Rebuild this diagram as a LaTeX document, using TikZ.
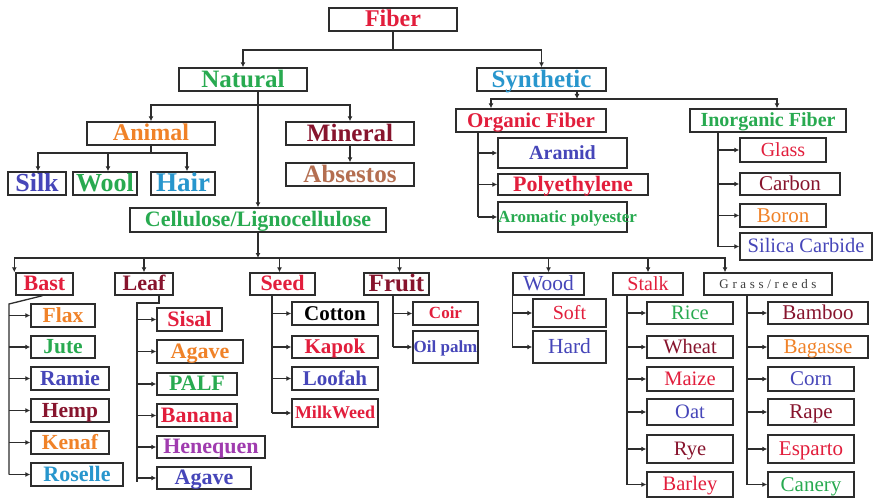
\documentclass[tikz,border=0pt]{standalone}
\usepackage{fontspec}
\setmainfont{Liberation Serif}
\newfontfamily\grassfont[LetterSpace=28]{Liberation Serif}
\usetikzlibrary{arrows.meta}
\definecolor{cred}{RGB}{226,30,60}
\definecolor{cdred}{RGB}{135,20,45}
\definecolor{cgreen}{RGB}{40,170,80}
\definecolor{corange}{RGB}{240,130,40}
\definecolor{cblue}{RGB}{70,70,185}
\definecolor{clblue}{RGB}{40,150,205}
\definecolor{cbrown}{RGB}{180,110,80}
\definecolor{cpurple}{RGB}{160,60,175}
\definecolor{cgray}{RGB}{60,60,60}
\definecolor{lc}{RGB}{45,45,45}
\begin{document}
\begin{tikzpicture}[x=1pt,y=-1pt,
  bx/.style={draw=lc, line width=1.4pt, inner sep=0pt, minimum width=#1},
  fb/.style={font=\fontsize{#1}{#1}\selectfont\bfseries, text height={0.62*#1pt}, text depth=0pt},
  fr/.style={font=\fontsize{#1}{#1}\selectfont, text height={0.62*#1pt}, text depth=0pt},
  ln/.style={draw=lc, line width=1.3pt},
  arr/.style={draw=lc, line width=1.3pt, -{Latex[length=5pt,width=5pt]}}]
\fill[white] (0,0) rectangle (874,500);
\useasboundingbox (0,0) rectangle (874,500);
% top levels
\node[bx=128, minimum height=23, fb=24, text=cred] (fiber) at (393,19.5) {Fiber};
\node[bx=128, minimum height=23, fb=25, text=cgreen] (natural) at (243,79.5) {Natural};
\node[bx=129, minimum height=23, fb=25, text=clblue] (synthetic) at (541.5,79.5) {Synthetic};
\node[bx=128, minimum height=23, fb=24, text=corange] (animal) at (151,133.5) {Animal};
\node[bx=128, minimum height=23, fb=25, text=cdred] (mineral) at (350,133.5) {Mineral};
\node[bx=128, minimum height=23, fb=25, text=cbrown] (absestos) at (350,174.5) {Absestos};
\node[bx=58, minimum height=23, fb=26, text=cblue] (silk) at (37,183.5) {Silk};
\node[bx=64, minimum height=23, fb=26, text=cgreen] (wool) at (105,183.5) {Wool};
\node[bx=64, minimum height=23, fb=27, text=clblue] (hair) at (183,183.5) {Hair};
\node[bx=256, minimum height=24, fb=22, text=cgreen] (cellulose) at (258,220) {Cellulose/Lignocellulose};
% synthetic branch
\node[bx=150, minimum height=23, fb=21, text=cred] (organic) at (531,120.5) {Organic Fiber};
\node[bx=156, minimum height=23, fb=20, text=cgreen] (inorganic) at (768,120.5) {Inorganic Fiber};
\node[bx=129, minimum height=30, fb=20, text=cblue] (aramid) at (562.5,153) {Aramid};
\node[bx=150, minimum height=21, fb=22, text=cred] (polyethylene) at (573,184.5) {Polyethylene};
\node[bx=129, minimum height=30, fb=17, text=cgreen] (aromatic) at (562.5,217) {\makebox[129pt][l]{Aromatic polyester}};
\node[bx=86, minimum height=24, fr=20, text=cred] (glass) at (783,150) {Glass};
\node[bx=100, minimum height=22, fr=21, text=cdred] (carbon) at (790,184) {Carbon};
\node[bx=86, minimum height=23, fr=21, text=corange] (boron) at (783,215.5) {Boron};
\node[bx=132, minimum height=27, fr=20.5, text=cblue] (silica) at (806,246.5) {Silica Carbide};
% cellulose categories
\node[bx=57, minimum height=22, fb=22, text=cred] (bast) at (44.5,284) {Bast};
\node[bx=58, minimum height=22, fb=22, text=cdred] (leaf) at (144,284) {Leaf};
\node[bx=65, minimum height=22, fb=22, text=cred] (seed) at (282.5,284) {Seed};
\node[bx=65, minimum height=22, fb=25, text=cdred] (fruit) at (396.5,284) {Fruit};
\node[bx=71, minimum height=22, fr=21.5, text=cblue] (wood) at (548.5,284) {Wood};
\node[bx=70, minimum height=22, fr=20, text=cred] (stalk) at (648,284) {Stalk};
\node[bx=128, minimum height=22, font=\grassfont\fontsize{13}{13}\selectfont, text height=8pt, text depth=0pt, text=cgray] (grass) at (768,284) {Grass/reeds};
% bast
\node[bx=64, minimum height=23, fb=21.5, text=corange] (flax) at (63,315.5) {Flax};
\node[bx=64, minimum height=22, fb=21.5, text=cgreen] (jute) at (63,347) {Jute};
\node[bx=78, minimum height=23, fb=21.5, text=cblue] (ramie) at (70,378.5) {Ramie};
\node[bx=78, minimum height=23, fb=21.5, text=cdred] (hemp) at (70,410.5) {Hemp};
\node[bx=78, minimum height=23, fb=21.5, text=corange] (kenaf) at (70,442.5) {Kenaf};
\node[bx=92, minimum height=23, fb=22, text=clblue] (roselle) at (77,474.5) {Roselle};
% leaf
\node[bx=65, minimum height=23, fb=22, text=cred] (sisal) at (189.5,319.5) {Sisal};
\node[bx=86, minimum height=23, fb=22, text=corange] (agavea) at (200,351.5) {Agave};
\node[bx=80, minimum height=22, fb=22, text=cgreen] (palf) at (197,384) {PALF};
\node[bx=80, minimum height=23, fb=22, text=cred] (banana) at (197,415.5) {Banana};
\node[bx=108, minimum height=22, fb=22, text=cpurple] (henequen) at (211,447) {Henequen};
\node[bx=94, minimum height=22, fb=22, text=cblue] (agaveb) at (204,478) {Agave};
% seed
\node[bx=86, minimum height=23, fb=21, text=black] (cotton) at (335,313.5) {Cotton};
\node[bx=86, minimum height=22, fb=21, text=cred] (kapok) at (335,347) {Kapok};
\node[bx=86, minimum height=23, fb=21, text=cblue] (loofah) at (335,378.5) {Loofah};
\node[bx=86, minimum height=28, fb=18, text=cred] (milkweed) at (335,413) {MilkWeed};
% fruit
\node[bx=65, minimum height=23, fb=17, text=cred] (coir) at (445.5,313.5) {Coir};
\node[bx=65, minimum height=32, fb=17, text=cblue] (oilpalm) at (445.5,347) {Oil palm};
% wood
\node[bx=73, minimum height=28, fr=20, text=cred] (soft) at (569.5,313) {Soft};
\node[bx=73, minimum height=32, fr=21.5, text=cblue] (hard) at (569.5,347) {Hard};
% stalk
\node[bx=86, minimum height=22, fr=20.5, text=cgreen] (rice) at (690,313) {Rice};
\node[bx=86, minimum height=22, fr=20.5, text=cdred] (wheat) at (690,347) {Wheat};
\node[bx=86, minimum height=24, fr=20.5, text=cred] (maize) at (690,379) {Maize};
\node[bx=86, minimum height=26, fr=20.5, text=cblue] (oat) at (690,412) {Oat};
\node[bx=86, minimum height=28, fr=20.5, text=cdred] (rye) at (690,449) {Rye};
\node[bx=86, minimum height=25, fr=20.5, text=cred] (barley) at (690,484.5) {Barley};
% grass
\node[bx=100, minimum height=22, fr=21, text=cdred] (bamboo) at (818,313) {Bamboo};
\node[bx=100, minimum height=22, fr=21, text=corange] (bagasse) at (818,347) {Bagasse};
\node[bx=86, minimum height=24, fr=21, text=cblue] (corn) at (811,379) {Corn};
\node[bx=86, minimum height=26, fr=21, text=cdred] (rape) at (811,412) {Rape};
\node[bx=86, minimum height=28, fr=21, text=cred] (esparto) at (811,449) {Esparto};
\node[bx=86, minimum height=25, fr=21, text=cgreen] (canery) at (811,484.5) {Canery};
% ---- connectors ----
\coordinate (fbus) at (393,50);
\draw[ln] (fiber.south) -- (fbus);
\draw[arr] (fbus) -| (natural.north);
\draw[arr] (fbus) -| (synthetic.north);
\draw[arr] (natural.south -| cellulose.north) -- (cellulose.north);
\coordinate (nbus) at (257,105);
\draw[arr] (nbus) -| (animal.north);
\draw[arr] (nbus) -| (mineral.north);
\draw[arr] (mineral.south) -- (absestos.north);
\coordinate (abus) at (151,153);
\draw[ln] (animal.south) -- (abus);
\draw[arr] (abus) -| ([xshift=1pt]silk.north);
\draw[arr] (abus) -| ([xshift=3pt]wool.north);
\draw[arr] (abus) -| ([xshift=4pt]hair.north);
% synthetic
\coordinate (sbus) at (577,99);
\draw[arr] (synthetic.south -| sbus) -- (sbus);
\draw[arr] (sbus) -| ([xshift=-40pt]organic.north);
\draw[arr] (sbus) -| ([xshift=9pt]inorganic.north);
\coordinate (ov) at (478,0);
\draw[ln] (organic.south -| ov) -- (ov |- aromatic.west);
\foreach \n in {aramid,polyethylene,aromatic} \draw[arr] (ov |- \n.west) -- (\n.west);
\coordinate (iv) at (718,0);
\draw[ln] (inorganic.south -| iv) -- (iv |- silica.west);
\foreach \n in {glass,carbon,boron,silica} \draw[arr] (iv |- \n.west) -- (\n.west);
% cellulose bus
\coordinate (cbus) at (258,258);
\draw[arr] (cellulose.south) -- (cbus);
\draw[arr] (cbus) -| ([xshift=-1pt]bast.north west);
\draw[arr] (cbus) -| (leaf.north);
\draw[arr] (cbus) -| ([xshift=-3pt]seed.north);
\draw[arr] (cbus) -| ([xshift=3pt]fruit.north);
\draw[arr] (cbus) -| (wood.north);
\draw[arr] (cbus) -| (stalk.north);
\draw[arr] (cbus) -| ([xshift=-43pt]grass.north);
% bast
\coordinate (bv) at (9,304);
\draw[ln] ([xshift=-2pt]bast.south) -- (bv) -- (bv |- roselle.west);
\foreach \n in {flax,jute,ramie,hemp,kenaf,roselle} \draw[arr] (bv |- \n.west) -- (\n.west);
% leaf
\coordinate (lv) at (137,303);
\draw[ln] ([xshift=15pt]leaf.south) |- (lv) -- (lv |- agaveb.west) -- ++(0,4);
\foreach \n in {sisal,agavea,palf,banana,henequen,agaveb} \draw[arr] (lv |- \n.west) -- (\n.west);
% seed
\coordinate (sv) at (272,0);
\draw[ln] (seed.south -| sv) -- (sv |- milkweed.west);
\foreach \n in {cotton,kapok,loofah,milkweed} \draw[arr] (sv |- \n.west) -- (\n.west);
% fruit
\coordinate (frv) at (393,0);
\draw[ln] (fruit.south -| frv) -- (frv |- oilpalm.west);
\foreach \n in {coir,oilpalm} \draw[arr] (frv |- \n.west) -- (\n.west);
% wood
\draw[ln] (wood.south west) -- (wood.south west |- hard.west);
\foreach \n in {soft,hard} \draw[arr] (wood.south west |- \n.west) -- (\n.west);
% stalk
\coordinate (stv) at (627,0);
\draw[ln] (stalk.south -| stv) -- (stv |- barley.west);
\foreach \n in {rice,wheat,maize,oat,rye,barley} \draw[arr] (stv |- \n.west) -- (\n.west);
% grass
\coordinate (gv) at (747,0);
\draw[ln] (grass.south -| gv) -- (gv |- canery.west);
\foreach \n in {bamboo,bagasse,corn,rape,esparto,canery} \draw[arr] (gv |- \n.west) -- (\n.west);
\end{tikzpicture}
\end{document}
